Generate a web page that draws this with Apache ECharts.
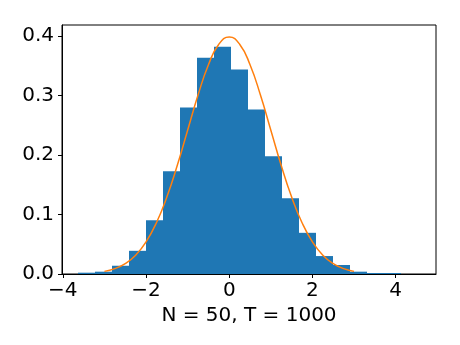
<!DOCTYPE html>
<html>
<head>
<meta charset="utf-8">
<script src="https://cdn.jsdelivr.net/npm/echarts@6/dist/echarts.min.js"></script>
<style>
  html, body { margin: 0; padding: 0; background: #fff; }
  #chart { width: 460px; height: 345px; }
</style>
</head>
<body>
<div id="chart"></div>
<script>
// histogram bins (left edge, width) and density heights
const binStart = -3.64
const binWidth = 0.409
const binHeights = [
  0.0022, 0.0039, 0.0139, 0.039, 0.0906, 0.1728, 0.280, 0.364, 0.3826, 0.344,
  0.277, 0.198, 0.1275, 0.0693, 0.0302, 0.0151, 0.0039, 0.0017, 0.0017
]

// orange curve, read at steps of 0.25 from -3 to 3
const curveX = [
  -3, -2.75, -2.5, -2.25, -2, -1.75, -1.5, -1.25, -1, -0.75, -0.5, -0.25, 0,
  0.25, 0.5, 0.75, 1, 1.25, 1.5, 1.75, 2, 2.25, 2.5, 2.75, 3
]
const curveY = [
  0.0044, 0.0091, 0.0175, 0.0317, 0.054, 0.0863, 0.1295, 0.1826, 0.242, 0.3011, 0.3521, 0.3867, 0.3989,
  0.3867, 0.3521, 0.3011, 0.242, 0.1826, 0.1295, 0.0863, 0.054, 0.0317, 0.0175, 0.0091, 0.0044
]

const xTicks = [-4, -2, 0, 2, 4]
const yTicks = [0, 0.1, 0.2, 0.3, 0.4]
const xTitle = 'N = 50, T = 1000'

const font = 'DejaVu Sans'

const histData = binHeights.map((h, i) => [
  binStart + i * binWidth,
  binStart + (i + 1) * binWidth,
  h
])

const chart = echarts.init(document.getElementById('chart'))

chart.setOption({
  animation: false,
  backgroundColor: '#fff',
  grid: {
    left: 62, right: 24, top: 25, bottom: 71,
    show: true,
    borderColor: '#000',
    borderWidth: 1
  },
  xAxis: {
    type: 'value',
    min: -4.02,
    max: 4.97,
    splitLine: { show: false },
    axisLine: { show: true, onZero: false, lineStyle: { color: '#000', width: 1 } },
    axisTick: { show: true, length: 4, customValues: xTicks, lineStyle: { color: '#000' } },
    axisLabel: {
      customValues: xTicks,
      margin: 7,
      color: '#000',
      fontFamily: font,
      fontSize: 20,
      formatter: v => (v < 0 ? '\u2212' + Math.abs(v) : String(v))
    },
    name: xTitle,
    nameLocation: 'middle',
    nameGap: 29,
    nameTextStyle: { color: '#000', fontFamily: font, fontSize: 20 }
  },
  yAxis: {
    type: 'value',
    min: 0,
    max: 0.419,
    splitLine: { show: false },
    axisLine: { show: true, onZero: false, lineStyle: { color: '#000', width: 1 } },
    axisTick: { show: true, length: 4, customValues: yTicks, lineStyle: { color: '#000' } },
    axisLabel: {
      customValues: yTicks,
      margin: 8,
      color: '#000',
      fontFamily: font,
      fontSize: 20,
      formatter: v => v.toFixed(1)
    }
  },
  series: [
    {
      type: 'custom',
      data: histData,
      encode: { x: [0, 1], y: 2 },
      renderItem: (params, api) => {
        const p0 = api.coord([api.value(0), 0])
        const p1 = api.coord([api.value(1), api.value(2)])
        const x0 = Math.round(p0[0])
        const x1 = Math.round(p1[0])
        return {
          type: 'rect',
          shape: { x: x0, y: p1[1], width: x1 - x0, height: p0[1] - p1[1] },
          style: { fill: '#1f77b4' }
        }
      },
      z: 1
    },
    {
      type: 'line',
      data: curveX.map((x, i) => [x, curveY[i]]),
      smooth: true,
      showSymbol: false,
      lineStyle: { color: '#ff7f0e', width: 1.5 },
      z: 2
    }
  ]
})
</script>
</body>
</html>
